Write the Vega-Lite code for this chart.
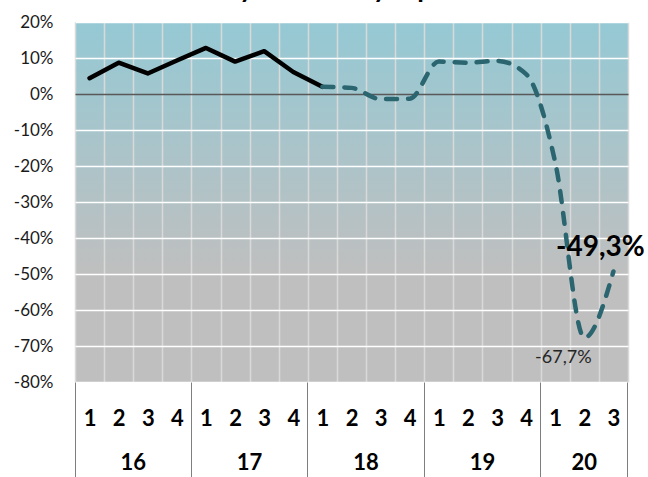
{
  "$schema": "https://vega.github.io/schema/vega-lite/v6.json",
  "width": 553,
  "height": 360,
  "autosize": {"type": "none"},
  "padding": {"left": 75, "top": 22, "right": 20, "bottom": 95},
  "background": "white",
  "title": {"text": "Hotel activity in monthly report", "font": "Lato", "fontSize": 27, "fontWeight": "bold", "color": "#000000", "anchor": "middle", "offset": 9.5, "dx": -72},
  "data": {
    "values": [
      {"period": "16-1", "value": 4.4, "series": "a"},
      {"period": "16-2", "value": 8.7, "series": "a"},
      {"period": "16-3", "value": 5.7, "series": "a"},
      {"period": "16-4", "value": 9.3, "series": "a"},
      {"period": "17-1", "value": 12.8, "series": "a"},
      {"period": "17-2", "value": 9.0, "series": "a"},
      {"period": "17-3", "value": 11.9, "series": "a"},
      {"period": "17-4", "value": 6.1, "series": "a"},
      {"period": "18-1", "value": 2.0, "series": "a"},
      {"period": "18-1", "value": 2.0, "series": "b"},
      {"period": "18-2", "value": 1.7, "series": "b"},
      {"period": "18-3", "value": -1.4, "series": "b"},
      {"period": "18-4", "value": -1.3, "series": "b"},
      {"period": "19-1", "value": 9.0, "series": "b"},
      {"period": "19-2", "value": 8.7, "series": "b"},
      {"period": "19-3", "value": 9.2, "series": "b"},
      {"period": "19-4", "value": 5.5, "series": "b"},
      {"period": "20-1", "value": -19.0, "series": "b"},
      {"period": "20-2", "value": -67.7, "series": "b", "label": "-67,7%"},
      {"period": "20-3", "value": -49.3, "series": "b", "label": "-49,3%"}
    ]
  },
  "resolve": {"axis": {"x": "independent"}},
  "encoding": {
    "y": {"field": "value", "type": "quantitative", "scale": {"domain": [-80, 20], "nice": false, "zero": false},
      "axis": {"values": [-80, -70, -60, -50, -40, -30, -20, -10, 0, 10, 20], "tickCount": 11, "labelExpr": "datum.value + '%'", "grid": true,
        "gridColor": {"condition": {"test": "datum.value === 0", "value": "#595959"}, "value": "#FFFFFF"}, "gridWidth": 1.5, "ticks": false, "tickSize": 0, "domain": false,
        "labelOverlap": false, "labelBound": false, "labelFlush": false,
        "labelFont": "Lato", "labelFontSize": 17, "labelColor": "#1A1A1A", "labelPadding": 22, "title": null}}
  },
  "layer": [
    {
      "transform": [{"filter": "datum.series === 'a'"}],
      "mark": {"type": "line", "color": "#000000", "strokeWidth": 4.5, "strokeJoin": "round", "strokeCap": "round"},
      "encoding": {
        "x": {"field": "period", "type": "nominal", "scale": {"type": "band", "paddingInner": 0, "paddingOuter": 0},
          "axis": {"orient": "bottom", "tickBand": "extent", "grid": true, "gridColor": "#D9D9D9", "gridWidth": 1.5, "ticks": false, "tickSize": 0, "domain": false,
            "labelExpr": "split(datum.value, '-')[1]", "labelFont": "Lato", "labelFontSize": 22, "labelFontWeight": "bold", "labelColor": "#000000", "labelPadding": 26, "labelAngle": 0, "labelOverlap": false, "labelBound": false, "labelFlush": false, "title": null}}
      }
    },
    {
      "transform": [{"filter": "datum.series === 'b'"}],
      "mark": {"type": "line", "color": "#2A6570", "strokeWidth": 4.5, "strokeDash": [11, 11], "strokeCap": "round", "interpolate": "monotone"},
      "encoding": {
        "x": {"field": "period", "type": "nominal",
          "axis": {"orient": "bottom", "values": ["16-2", "17-2", "18-2", "19-2", "20-2"], "grid": false, "ticks": false, "tickSize": 0, "domain": false,
            "labelExpr": "split(datum.value, '-')[0]", "labelOffset": {"condition": {"test": "datum.value === '20-2'", "value": 0}, "value": 14.55},
            "labelFont": "Lato", "labelFontSize": 22, "labelFontWeight": "bold", "labelColor": "#000000", "labelPadding": 70, "labelAngle": 0, "labelOverlap": false, "labelBound": false, "labelFlush": false, "title": null}}
      }
    },
    {
      "transform": [{"filter": "datum.period === '20-3' && datum.series === 'b'"}],
      "mark": {"type": "text", "font": "Lato", "fontSize": 28, "fontWeight": "bold", "color": "#000000", "dx": -13, "dy": -23},
      "encoding": {
        "x": {"field": "period", "type": "nominal",
          "axis": {"orient": "bottom", "values": ["16-1", "17-1", "18-1", "19-1", "20-1"], "bandPosition": 0, "grid": false, "ticks": true, "tickSize": 95, "tickColor": "#7F7F7F", "tickWidth": 1, "labels": false, "domain": false, "title": null}},
        "text": {"field": "label"}
      }
    },
    {
      "transform": [{"filter": "datum.period === '20-2' && datum.series === 'b'"}],
      "mark": {"type": "text", "font": "Lato", "fontSize": 18, "color": "#262626", "dx": -21, "dy": 20},
      "encoding": {
        "x": {"field": "period", "type": "nominal",
          "axis": {"orient": "bottom", "values": ["20-3"], "bandPosition": 1, "grid": false, "ticks": true, "tickSize": 95, "tickColor": "#7F7F7F", "tickWidth": 1, "labels": false, "domain": false, "title": null}},
        "text": {"field": "label"}
      }
    }
  ],
  "config": {
    "font": "Lato",
    "axis": {"title": null},
    "view": {"stroke": null, "fill": {"gradient": "linear", "x1": 0, "y1": 0, "x2": 0, "y2": 1, "stops": [{"offset": 0, "color": "#95C9D4"}, {"offset": 0.7, "color": "#BFBFBF"}, {"offset": 1, "color": "#BFBFBF"}]}}
  }
}
